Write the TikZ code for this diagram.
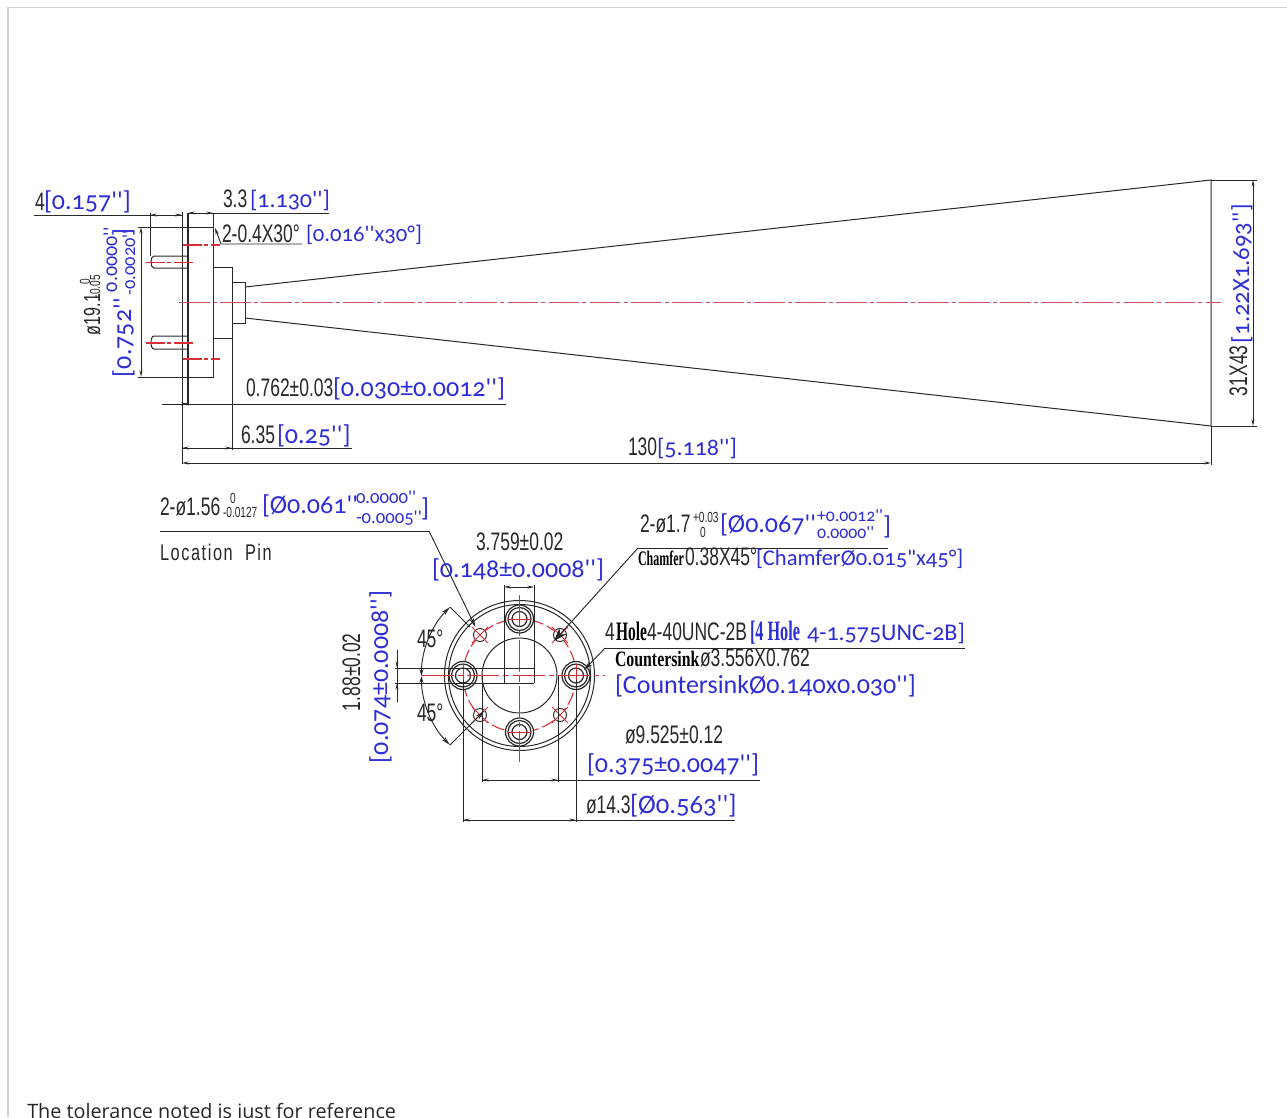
\documentclass[tikz,border=0pt]{standalone}
\usepackage{fontspec}
\usetikzlibrary{arrows.meta}
\newfontfamily\cadfam[FakeStretch=0.69]{Liberation Sans}
\newfontfamily\cadwide[FakeStretch=0.72,LetterSpace=7]{Liberation Sans}
\newfontfamily\cadbold[FakeStretch=0.58]{Liberation Serif}[BoldFont=Liberation Serif Bold]
\newfontfamily\cadboldw[FakeStretch=0.72]{Liberation Serif}[BoldFont=Liberation Serif Bold]
\newfontfamily\blufam[Numbers=OldStyle]{Carlito}
\newfontfamily\footfam{Open Sans}
\definecolor{inkblue}{RGB}{45,45,215}
\definecolor{inkred}{RGB}{215,45,55}
\definecolor{softred}{RGB}{205,75,90}
\definecolor{ink}{RGB}{40,40,40}
\definecolor{frameg}{RGB}{210,210,210}
\tikzset{
 cad/.style={anchor=base west,inner sep=0,outer sep=0,text=ink,font=\cadfam\fontsize{19}{20}\selectfont},
 cads/.style={cad,font=\cadfam\fontsize{11}{12}\selectfont},
 chb/.style={anchor=base west,inner sep=0,outer sep=0,text=black,font=\cadbold\bfseries\fontsize{15.5}{16}\selectfont},
 blz/.style={anchor=base west,inner sep=0,outer sep=0,text=inkblue,font=\blufam\fontsize{#1}{22}\selectfont},
 blu/.style={blz=19.5},
 blus/.style={blz=13.3},
 blub/.style={chb,text=inkblue,font=\cadbold\bfseries\fontsize{21}{22}\selectfont},
 ln/.style={draw=ink,line width=0.75pt},
 dim/.style={draw=ink,line width=0.7pt},
 dimm/.style={dim,{Stealth[length=5pt,width=2.2pt]}-{Stealth[length=5pt,width=2.2pt]}},
 lead/.style={dim,-{Stealth[length=7pt,width=3.4pt]}},
 ctr/.style={draw=softred,line width=0.95pt,dash pattern=on 23pt off 2.4pt on 3pt off 2.4pt},
 ctrs/.style={draw=inkred,line width=0.8pt,dash pattern=on 14pt off 2pt on 3pt off 2pt},
 ctrf/.style={draw=inkred,line width=0.8pt,dash pattern=on 24pt off 3pt on 4pt off 3pt},
 xh/.style={draw=inkred,line width=0.7pt},
}
\begin{document}
\begin{tikzpicture}[x=0.75pt,y=-0.75pt]
\path[use as bounding box] (0,0) rectangle (1287,1117);
\clip (0,0) rectangle (1287,1117);
\fill[white] (0,0) rectangle (1287,1117);
\draw[frameg,line width=1.2pt] (1287,7.5) -- (8,7.5) -- (8,1117);
% ---------- side view ----------
\coordinate (hTL) at (245,287); \coordinate (hTR) at (1211,180);
\coordinate (hBL) at (245,318); \coordinate (hBR) at (1211,426);
\draw[ln] (138,227) -- (213,227) -- (213,377) -- (138,377);
\draw[ln,line width=1.2pt] (188,213) -- (188,405);
\draw[dim] (182,212) -- (182,464);
\draw[ln] (213,267) -- (232,267) -- (232,338) -- (213,338);
\draw[ln] (232,282) -- (245,282) -- (245,323) -- (232,323);
\draw[ln] (hTL) -- (hTR) -- (hBR) -- (hBL);
% pins
\draw[ln] (188,256) -- (154,256) .. controls (150,256) and (150,268) .. (154,268) -- (188,268);
\draw[ln] (188,336) -- (154,336) .. controls (150,336) and (150,349) .. (154,349) -- (188,349);
% centre lines
\draw[ctr] (179,302.5) -- (1221,302.5);
\draw[ctrs] (183,245) -- (220,245);
\draw[ctrs] (146,262.5) -- (195,262.5);
\draw[ctrs] (146,343) -- (195,343);
\draw[ctrs] (183,359) -- (220,359);
% dimensions side view
\draw[dim] (34,215.5) -- (182,215.5);
\draw[dim] (188,213) -- (329,213);
\draw[dim] (150,213) -- (150,256);
\draw[dim] (213,213) -- (213,227);
\draw[dimm] (150,215) -- (182,215);
\draw[dimm] (188,213) -- (213,213);
\draw[dimm] (141,227) -- (141,377);
\draw[dim] (162,404) -- (506,404);
\draw[dimm] (182,404) -- (188,404);
\draw[dim] (232,338) -- (232,450);
\draw[dim] (182,448) -- (352,448);
\draw[dimm] (182,448) -- (232,448);
\draw[dimm] (182,463) -- (1211,463);
\draw[dim] (1211,426) -- (1211,465);
\draw[dim] (hTR) -- (1257,180);
\draw[dim] (hBR) -- (1257,426);
\draw[dimm] (1253,180) -- (1253,426);
\coordinate (chamA) at (215,228);
\draw[dim,{Stealth[length=5pt,width=2.5pt]}-] (chamA) -- (221,244) -- (302,244);
% ---------- front view ----------
\coordinate (c) at (519.5,675.5);
\draw[ln] (c) circle[radius=75];
\draw[ln] (c) circle[radius=71];
\draw[ln] (c) circle[radius=37.5];
\draw[draw=inkred,line width=0.8pt,dash pattern=on 10pt off 3pt] (c) circle[radius=56.5];
\foreach \hx/\hy/\nm in {463/675.5/hW,576/675.5/hE,519.5/619/hN,519.5/732/hS}{
  \coordinate (\nm) at (\hx,\hy);
  \fill[white] (\nm) circle[radius=14];
  \draw[ln,line width=0.9pt] (\nm) circle[radius=14];
  \draw[ln,line width=0.9pt] (\nm) circle[radius=11.5];
  \draw[ln,line width=0.9pt] (\nm) circle[radius=7.5];
}
\foreach \hx/\hy/\nm in {480/635/pNW,560/635/pNE,480/715/pSW,560/715/pSE}{
  \coordinate (\nm) at (\hx,\hy);
  \fill[white] (\nm) circle[radius=6.5];
  \draw[dim] (\nm) circle[radius=6.5];
  \draw[xh] ([xshift=-6pt,yshift=-6pt]\nm) -- ([xshift=6pt,yshift=6pt]\nm);
  \draw[xh] ([xshift=-6pt,yshift=6pt]\nm) -- ([xshift=6pt,yshift=-6pt]\nm);
}
\draw[ctrf] (422,675.5) -- (605,675.5);
\draw[ctrf] (519.5,595) -- (519.5,762);
\draw[xh] (508,619) -- (531,619);
\draw[xh] (508,732) -- (531,732);
\draw[xh] (463,664) -- (463,687);
\draw[xh] (576,664) -- (576,687);
% dimension lines front view
\draw[dim] (504,585) -- (504,683);
\draw[dim] (534,585) -- (534,683);
\draw[dimm] (504,587) -- (534,587);
\draw[dim] (395,668) -- (534,668);
\draw[dim] (395,683) -- (534,683);
\draw[dim] (397,650) -- (397,702);
\draw[dim,-{Stealth[length=5pt,width=2.2pt]}] (397,650) -- (397,668);
\draw[dim,-{Stealth[length=5pt,width=2.2pt]}] (397,702) -- (397,683);
\draw[dim] (463,680) -- (463,822);
\draw[dim] (576,680) -- (576,822);
\draw[dim] (463,820) -- (735,820);
\draw[dimm] (463,820) -- (576,820);
\draw[dim] (482,676) -- (482,782);
\draw[dim] (558,676) -- (558,782);
\draw[dim] (482,780) -- (760,780);
\draw[dimm] (482,780) -- (558,780);
% angular
\coordinate (angA) at (450,607);
\coordinate (angB) at (450,745);
\draw[dim] (angA) -- (470,627);
\draw[lead] (angB) -- (484,711);
\draw[dim,{Stealth[length=7pt,width=3.2pt]}-{Stealth[length=5pt,width=3pt]}] (angA) arc[start angle=225,end angle=180,radius=97.5];
\draw[dim,{Stealth[length=7pt,width=3.2pt]}-{Stealth[length=5pt,width=3pt]}] (angB) arc[start angle=135,end angle=180,radius=97.5];
% leaders
\coordinate (locL) at (160,531);
\coordinate (locK) at (429,531);
\coordinate (locE) at (475.5,627);
\draw[dim] (locL) -- (locK);
\draw[lead] (locK) -- (locE);
\coordinate (chaR) at (888,548);
\coordinate (chaK) at (638,548);
\coordinate (chaE) at (554,641);
\draw[dim] (chaR) -- (chaK);
\draw[dim,-{Stealth[length=10pt,width=7pt]}] (chaK) -- (chaE);
\coordinate (cskR) at (965,648);
\coordinate (cskK) at (605,648);
\coordinate (cskE) at (584,670);
\draw[dim] (cskR) -- (cskK);
\draw[lead] (cskK) -- (cskE);
% ---------- texts ----------
\node[cad] (t1) at (35,210) {4};
\node[blu] (t2) at (44,209) {[0.157'']};
\node[cad] (t3) at (223,207) {3.3};
\node[blz=18] (t4) at (250,207) {[1.130'']};
\node[cad] (t5) at (222,242) {2-0.4X30°};
\node[blz=17] (t6) at (306,241) {[0.016''x30°]};
\node[cad] (t7) at (246,396) {0.762±0.03};
\node[blu] (t8) at (333,396) {[0.030±0.0012'']};
\node[cad] (t9) at (241,443) {6.35};
\node[blu] (t10) at (277,443) {[0.25'']};
\node[cad] (t11) at (628,455) {130};
\node[blz=18] (t12) at (657,455) {[5.118'']};
\node[cad,font=\cadfam\fontsize{17.5}{18}\selectfont,rotate=90] (t13) at (100,335) {ø19.1};
\node[cads,rotate=90] (t14) at (90,284) {0};
\node[cads,rotate=90] (t15) at (100,298) {-0.05};
\node[blu,rotate=90] (t16) at (131,377) {[0.752''};
\node[blz=15,rotate=90] (t17) at (117,292) {0.0000''};
\node[blz=13.8,rotate=90] (t18) at (135,295) {-0.0020''};
\node[blu,rotate=90] (t19) at (131,236) {]};
\node[cad,rotate=90] (t20) at (1247,396) {31X43};
\node[blz=18.5,rotate=90] (t21) at (1249,343) {[1.22X1.693'']};
\node[cad] (t22) at (160,515) {2-ø1.56};
\node[cads] (t23) at (223,517) {-0.0127};
\node[cads] (t24) at (230,503) {0};
\node[blz=19.5] (t25) at (262,513) {[Ø0.061''};
\node[blz=14] (t26) at (356,503) {0.0000''};
\node[blz=14] (t27) at (356,523) {-0.0005''};
\node[blu] (t28) at (421,516) {]};
\node[cad,font=\cadwide\fontsize{17}{18}\selectfont] (t29) at (160,560) {Location\ \ Pin};
\node[cad] (t30) at (476,550) {3.759±0.02};
\node[blu] (t31) at (432,577) {[0.148±0.0008'']};
\node[cad,rotate=90] (t32) at (360,711) {1.88±0.02};
\node[blu,rotate=90] (t33) at (388,763) {[0.074±0.0008'']};
\node[cad] (t34) at (417,647) {45°};
\node[cad] (t35) at (417,721) {45°};
\node[cad] (t36) at (640,532) {2-ø1.7};
\node[cads] (t37) at (693,522) {+0.03};
\node[cads] (t38) at (700,537) {0};
\node[blu] (t39) at (720,532) {[Ø0.067''};
\node[blus] (t40) at (817,521) {+0.0012''};
\node[blus] (t41) at (817,538) {0.0000''};
\node[blu] (t42) at (883,534) {]};
\node[chb] (t43) at (638,565) {Chamfer};
\node[cad] (t44) at (685,565) {0.38X45°};
\node[blz=16.9] (t45) at (756,565) {[ChamferØ0.015"x45°]};
\node[cad] (t46) at (605,640) {4};
\node[chb,font=\cadbold\bfseries\fontsize{20}{20}\selectfont] (t47) at (616,640) {Hole};
\node[cad] (t48) at (647,640) {4-40UNC-2B};
\node[blub] (t49) at (750,640) {[4 Hole};
\node[blz=18] (t50) at (807,640) {4-1.575UNC-2B]};
\node[chb,font=\cadboldw\bfseries\fontsize{16.5}{17}\selectfont] (t51) at (615,666) {Countersink};
\node[cad] (t52) at (700,666) {ø3.556X0.762};
\node[blu] (t53) at (615,693) {[CountersinkØ0.140x0.030'']};
\node[cad] (t54) at (625,743) {ø9.525±0.12};
\node[blu] (t55) at (587,772) {[0.375±0.0047'']};
\node[cad] (t56) at (586,813) {ø14.3};
\node[blz=20] (t57) at (630,813) {[Ø0.563'']};
\node[anchor=base west,inner sep=0,text=black!85,font=\footfam\fontsize{14.85}{16}\selectfont] (t58) at (27,1118) {The tolerance noted is just for reference};
\end{tikzpicture}
\end{document}
